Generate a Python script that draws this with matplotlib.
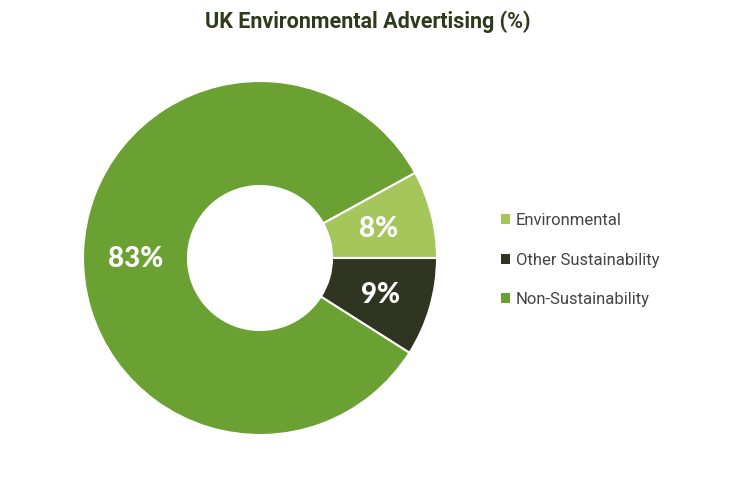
import matplotlib.pyplot as plt
from matplotlib.patches import Patch

plt.rcParams['font.family'] = ['Roboto', 'DejaVu Sans']

categories = ['Environmental', 'Other Sustainability', 'Non-Sustainability']
shares = [8, 9, 83]
colors = ['#a4c65a', '#2f3520', '#6ba132']

fig = plt.figure(figsize=(7.36, 4.79), dpi=100)

# pie in its own axes, placed so the centre lands at ~ (260, 258) px
R = 177
cx, cy = 260, 258
pax = fig.add_axes([(cx - R) / 736, 1 - (cy + R) / 479, 2 * R / 736, 2 * R / 479])
wedges, _ = pax.pie(shares, colors=colors, startangle=360 * shares[0] / 100,
                    counterclock=False, radius=1.0,
                    wedgeprops=dict(width=1 - 72 / 177, edgecolor='white', linewidth=1.5))
pax.set_xlim(-1, 1)
pax.set_ylim(-1, 1)
pax.set_aspect('auto')
pax.axis('off')

# overlay axes in pixel coords for text
ax = fig.add_axes([0.0, 0.0, 1.0, 1.0])
ax.set_xlim(0, 736)
ax.set_ylim(479, 0)
ax.axis('off')
ax.patch.set_alpha(0)

# percentage labels
label_pos = [(379, 229), (380, 295), (136, 259)]
for (x, y), v in zip(label_pos, shares):
    ax.text(x, y, f'{v}%', color='white', fontsize=20, fontweight='black',
            family=['Lato', 'DejaVu Sans'], ha='center', va='center')

ax.text(368, 22, 'UK Environmental Advertising (%)', color='#2e3a1c',
        fontsize=15.5, fontweight='bold', ha='center', va='center')

handles = [Patch(facecolor=c, edgecolor='none') for c in colors]
leg = fig.legend(handles, categories, loc='center left',
                 bbox_to_anchor=(486 / 736, 1 - 260 / 479), frameon=False,
                 fontsize=12, labelcolor='#444444', handlelength=0.55, handleheight=0.55,
                 handletextpad=0.35, labelspacing=1.45)

fig.savefig('out.png', dpi=100, facecolor='white')
